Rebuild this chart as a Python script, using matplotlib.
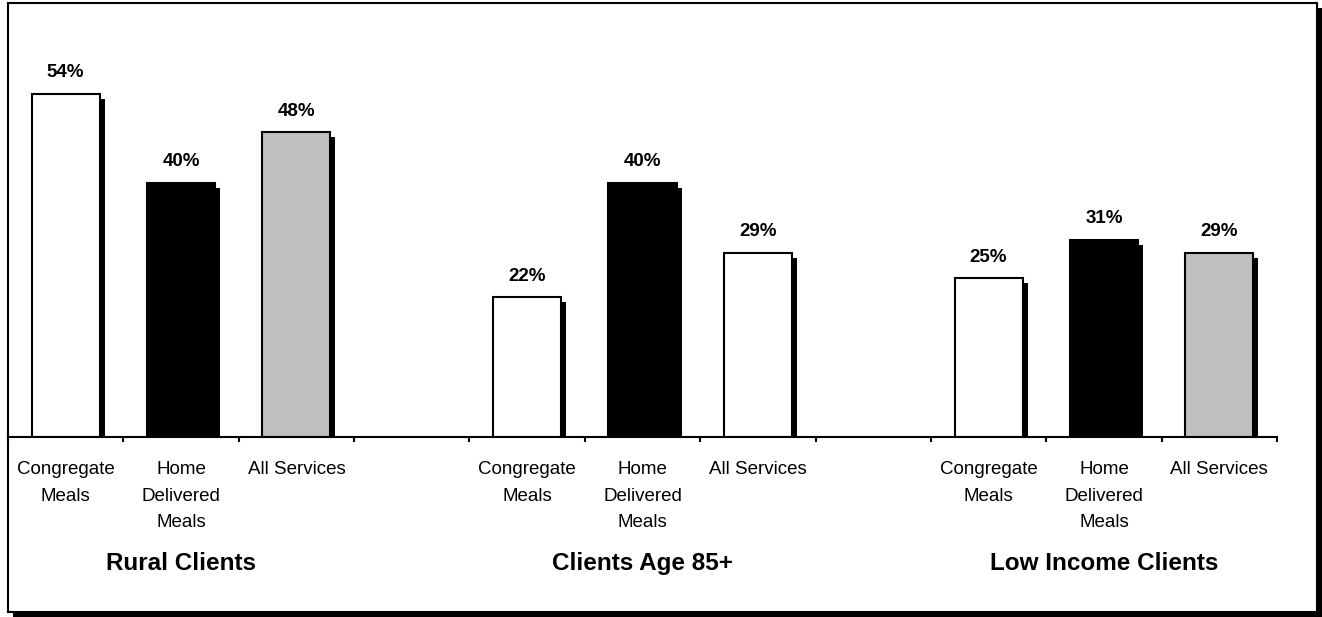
import matplotlib
matplotlib.use("Agg")
import matplotlib.pyplot as plt
import matplotlib.patheffects as pe
from matplotlib.patches import Rectangle

plt.rcParams['font.family'] = ['Liberation Sans Narrow', 'Liberation Sans', 'DejaVu Sans']

# data
groups = ["Rural Clients", "Clients Age 85+", "Low Income Clients"]
services = ["Congregate\nMeals", "Home\nDelivered\nMeals", "All Services"]
rural = [54, 40, 48]
age85 = [22, 40, 29]
low_income = [25, 31, 29]
bar_colors = [
    ["white", "black", "#c0c0c0"],
    ["white", "black", "white"],
    ["white", "black", "#c0c0c0"],
]

W, H = 1322, 617
fig = plt.figure(figsize=(W / 100, H / 100), dpi=100)
fig.patch.set_facecolor("white")

# outer frame with drop shadow
frame = Rectangle((8 / W, 1 - 612 / H), (1317 - 8) / W, (612 - 3) / H,
                  transform=fig.transFigure, facecolor="white", edgecolor="black",
                  linewidth=1.5, zorder=-1,
                  path_effects=[pe.SimplePatchShadow(offset=(3.5, -3.5), shadow_rgbFace="black", alpha=1),
                                pe.Normal()])
fig.add_artist(frame)

ax = fig.add_axes([8 / W, 1 - 437 / H, (1277 - 8) / W, (437 - 56) / H])
ax.patch.set_visible(False)

shadow = [pe.SimplePatchShadow(offset=(3.6, -3.6), shadow_rgbFace="black", alpha=1), pe.Normal()]

centers = []
for g, vals in enumerate([rural, age85, low_income]):
    start = g * 4
    xs = [start + i + 0.5 for i in range(3)]
    centers += xs
    bars = ax.bar(xs, vals, width=0.59, color=bar_colors[g], edgecolor="black", linewidth=1.5, zorder=2)
    for b, v in zip(bars, vals):
        b.set_path_effects(shadow)
        ax.annotate(f"{v}%", xy=(b.get_x() + b.get_width() / 2, v), xytext=(0, 12),
                    textcoords="offset points", ha="center", va="baseline",
                    fontsize=13.5, fontweight="bold")
    ax.annotate(groups[g], xy=(start + 1.5, 0), xycoords=("data", "axes fraction"),
                xytext=(0, -96), textcoords="offset points", ha="center", va="baseline",
                fontsize=17.5, fontweight="bold")

ax.set_xlim(0, 11)
ax.set_ylim(0, 60)
for s in ["left", "right", "top"]:
    ax.spines[s].set_visible(False)
ax.spines["bottom"].set_linewidth(1.5)
ax.set_yticks([])

ax.set_xticks(centers)
ax.set_xticklabels(services * 3, fontsize=13.5, linespacing=1.73)
ax.set_xticks(range(0, 12), minor=True)
ax.tick_params(axis="x", which="major", length=0, pad=17.5)
ax.tick_params(axis="x", which="minor", length=3.5, width=1.5, direction="out")

fig.savefig("out.png", dpi=100)
